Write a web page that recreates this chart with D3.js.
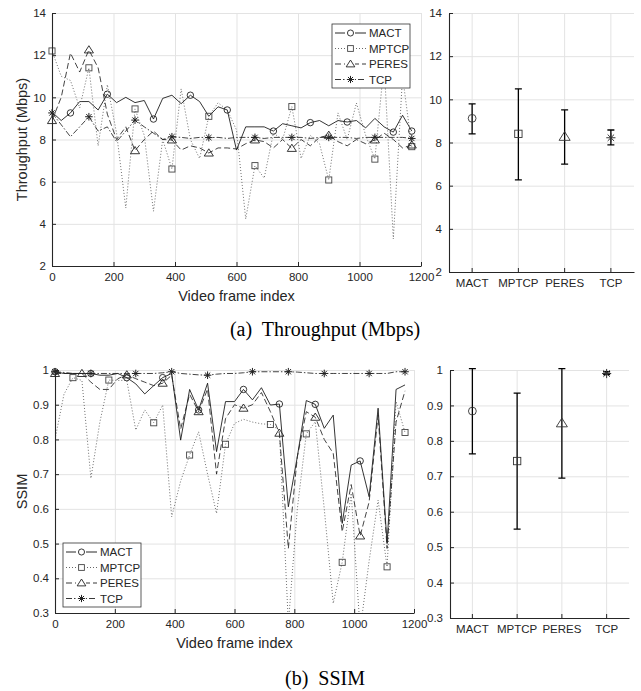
<!DOCTYPE html>
<html>
<head>
<meta charset="utf-8">
<script src="https://cdn.jsdelivr.net/npm/d3@7"></script>
<style>
  body { margin: 0; background: #fff; }
  text { font-family: "Liberation Sans", Arial, sans-serif; fill: #262626; }
  .caption { font-family: "Liberation Serif", "Times New Roman", serif; fill: #000; }
</style>
</head>
<body>
<div id="chart"></div>
<script>
// frame index of each sample
const frames = [0, 30, 60, 90, 120, 150, 180, 210, 240, 270, 300, 330, 360, 390, 420, 450, 480, 510, 540, 570,
  600, 630, 660, 690, 720, 750, 780, 810, 840, 870, 900, 930, 960, 990, 1020, 1050, 1080, 1110, 1140, 1170];
const methods = ["MACT", "MPTCP", "PERES", "TCP"];

// (a) throughput, Mbps
const thrMact = [9.3, 8.9, 9.26, 9.8, 9.8, 9.4, 10.15, 9.75, 10.0, 9.75, 9.85, 8.97, 9.95, 10.1, 9.7, 10.1, 9.8, 9.1, 9.55, 9.4,
  7.5, 8.6, 8.6, 8.6, 8.4, 8.75, 8.65, 8.55, 8.8, 8.9, 8.65, 8.9, 8.83, 8.9, 8.55, 9.0, 8.6, 8.35, 9.15, 8.4];
const thrMptcp = [12.2, 11.0, 10.8, 9.5, 11.4, 7.7, 10.6, 8.3, 4.75, 9.45, 8.2, 4.6, 8.0, 6.6, 10.4, 8.0, 7.1, 9.1, 9.74, 9.4,
  8.45, 4.23, 6.76, 6.17, 8.3, 8.0, 9.56, 7.1, 8.2, 7.8, 6.08, 9.26, 8.0, 9.73, 8.2, 7.07, 11.6, 3.28, 11.0, 7.66];
const thrPeres = [8.9, 10.0, 12.1, 11.2, 12.25, 11.4, 9.2, 8.0, 8.6, 7.47, 8.0, 8.4, 8.0, 7.98, 7.5, 7.7, 7.6, 7.36, 7.6, 7.6,
  7.55, 7.8, 7.98, 7.9, 7.6, 8.0, 7.58, 8.0, 7.7, 8.1, 8.2, 7.9, 7.7, 8.0, 7.8, 7.98, 8.3, 8.0, 7.6, 7.74];
const thrTcp = [9.26, 8.7, 8.13, 8.6, 9.08, 8.4, 8.6, 7.9, 8.4, 8.92, 8.6, 8.3, 8.0, 8.13, 8.1, 8.05, 8.1, 8.09, 8.1, 8.05,
  8.1, 8.1, 8.1, 8.05, 8.1, 8.1, 8.1, 8.1, 8.05, 8.1, 8.1, 8.1, 8.1, 8.05, 8.1, 8.1, 8.1, 8.1, 8.1, 8.05];
const thrMarks = {
  MACT: [60, 180, 330, 450, 570, 720, 840, 960, 1110, 1170],
  MPTCP: [0, 120, 270, 390, 510, 660, 780, 900, 1050, 1170],
  PERES: [0, 120, 270, 390, 510, 660, 780, 900, 1050, 1170],
  TCP: [0, 120, 270, 390, 510, 660, 780, 900, 1050, 1170]
};
const thrMean = [9.12, 8.40, 8.27, 8.22];
const thrLow = [8.40, 6.27, 7.00, 7.89];
const thrHigh = [9.79, 10.48, 9.51, 8.58];
const thrTicks = [2, 4, 6, 8, 10, 12, 14];

// (b) SSIM
const ssimMact = [0.995, 0.99, 0.99, 0.99, 0.99, 0.985, 0.985, 0.99, 0.978, 0.96, 0.931, 0.955, 0.978, 0.99, 0.798, 0.944, 0.885, 0.962, 0.765, 0.909,
  0.909, 0.944, 0.914, 0.949, 0.899, 0.902, 0.606, 0.75, 0.912, 0.901, 0.832, 0.87, 0.558, 0.726, 0.738, 0.635, 0.89, 0.5, 0.944, 0.957];
const ssimMptcp = [0.8, 0.93, 0.978, 0.97, 0.688, 0.85, 0.971, 0.97, 0.97, 0.827, 0.885, 0.848, 0.899, 0.577, 0.68, 0.755, 0.822, 0.70, 0.587, 0.786,
  0.846, 0.858, 0.85, 0.845, 0.843, 0.827, 0.27, 0.60, 0.816, 0.851, 0.6, 0.328, 0.446, 0.645, 0.25, 0.45, 0.625, 0.433, 0.909, 0.82];
const ssimPeres = [0.99, 0.99, 0.99, 0.99, 0.965, 0.944, 0.944, 0.975, 0.986, 0.975, 0.965, 0.955, 0.962, 0.985, 0.83, 0.93, 0.88, 0.945, 0.70, 0.86,
  0.90, 0.89, 0.90, 0.935, 0.88, 0.818, 0.486, 0.75, 0.88, 0.864, 0.80, 0.76, 0.534, 0.67, 0.522, 0.62, 0.87, 0.486, 0.85, 0.94];
const ssimTcp = [0.995, 0.993, 0.99, 0.99, 0.99, 0.99, 0.99, 0.99, 0.99, 0.99, 0.99, 0.99, 0.992, 0.995, 0.99, 0.988, 0.986, 0.985, 0.988, 0.99,
  0.99, 0.992, 0.995, 0.995, 0.995, 0.995, 0.995, 0.994, 0.992, 0.99, 0.99, 0.99, 0.99, 0.99, 0.99, 0.99, 0.99, 0.99, 0.995, 0.995];
const ssimMarks = {
  MACT: [0, 120, 240, 360, 480, 630, 750, 870, 1020],
  MPTCP: [60, 180, 330, 450, 570, 720, 840, 960, 1110, 1170],
  PERES: [0, 90, 240, 360, 480, 630, 750, 870, 1020],
  TCP: [0, 120, 270, 390, 510, 660, 780, 900, 1050, 1170]
};
const ssimMean = [0.884, 0.743, 0.850, 0.990];
const ssimLow = [0.763, 0.551, 0.695, 0.987];
const ssimHigh = [1.004, 0.935, 1.004, 0.995];
const ssimTicks = [0.3, 0.4, 0.5, 0.6, 0.7, 0.8, 0.9, 1];
const frameTicks = [0, 200, 400, 600, 800, 1000, 1200];

// line style for each method
const lineDash = { MACT: null, MPTCP: "1,2", PERES: "6,3", TCP: "6,2,1.5,2" };
const lineColor = { MACT: "#111", MPTCP: "#555", PERES: "#222", TCP: "#222" };
const gridColor = "#e3e3e3";
const axisColor = "#262626";
const plainNum = d => String(d);

const svg = d3.select("#chart").append("svg")
  .attr("width", 641).attr("height", 691)
  .style("background", "#fff");

function drawMarker(g, method, x, y, s) {
  const color = method === "MPTCP" ? "#444" : "#222";
  if (method === "MACT") {
    g.append("circle").attr("cx", x).attr("cy", y).attr("r", s * 0.85)
      .attr("fill", "none").attr("stroke", color).attr("stroke-width", 0.9);
  } else if (method === "MPTCP") {
    g.append("rect").attr("x", x - s * 0.8).attr("y", y - s * 0.8)
      .attr("width", s * 1.6).attr("height", s * 1.6)
      .attr("fill", "none").attr("stroke", color).attr("stroke-width", 0.9);
  } else if (method === "PERES") {
    g.append("path")
      .attr("d", `M${x},${y - s * 1.1}L${x + s * 1.2},${y + s * 0.8}L${x - s * 1.2},${y + s * 0.8}Z`)
      .attr("fill", "none").attr("stroke", color).attr("stroke-width", 0.9);
  } else {
    const d = s * 0.7;
    g.append("path")
      .attr("d", `M${x - s},${y}H${x + s}M${x},${y - s}V${y + s}M${x - d},${y - d}L${x + d},${y + d}M${x + d},${y - d}L${x - d},${y + d}`)
      .attr("fill", "none").attr("stroke", color).attr("stroke-width", 1);
  }
}

function drawSeriesPanel(cfg) {
  const x = d3.scaleLinear().domain([0, 1200]).range([cfg.left, cfg.right]);
  const y = d3.scaleLinear().domain(cfg.yDomain).range([cfg.bottom, cfg.top]);
  const g = svg.append("g");

  // grid
  g.append("g").attr("transform", `translate(0,${cfg.bottom})`)
    .call(d3.axisBottom(x).tickValues(frameTicks).tickSize(-(cfg.bottom - cfg.top)).tickFormat(""))
    .call(a => a.select(".domain").remove())
    .call(a => a.selectAll("line").attr("stroke", gridColor));
  g.append("g").attr("transform", `translate(${cfg.left},0)`)
    .call(d3.axisLeft(y).tickValues(cfg.yTicks).tickSize(-(cfg.right - cfg.left)).tickFormat(""))
    .call(a => a.select(".domain").remove())
    .call(a => a.selectAll("line").attr("stroke", gridColor));

  // series lines
  const clipId = "clip" + cfg.id;
  svg.append("clipPath").attr("id", clipId).append("rect")
    .attr("x", cfg.left).attr("y", cfg.top - 2)
    .attr("width", cfg.right - cfg.left).attr("height", cfg.bottom - cfg.top + 2);
  const line = d3.line().x((d, i) => x(frames[i])).y(d => y(d));
  const lines = g.append("g").attr("clip-path", `url(#${clipId})`);
  methods.forEach(m => {
    lines.append("path").datum(cfg.series[m])
      .attr("fill", "none")
      .attr("stroke", lineColor[m])
      .attr("stroke-width", 0.85)
      .attr("stroke-dasharray", lineDash[m])
      .attr("d", line);
  });
  // markers at chosen samples
  const marks = g.append("g");
  methods.forEach(m => {
    cfg.marks[m].forEach(f => {
      const v = cfg.series[m][frames.indexOf(f)];
      if (v >= cfg.yDomain[0]) drawMarker(marks, m, x(f), y(v), 3.8);
    });
  });

  // axes with inward ticks
  const ax = g.append("g").attr("transform", `translate(0,${cfg.bottom})`)
    .call(d3.axisBottom(x).tickValues(frameTicks).tickFormat(plainNum).tickSize(-4).tickSizeOuter(0).tickPadding(7));
  const ay = g.append("g").attr("transform", `translate(${cfg.left},0)`)
    .call(d3.axisLeft(y).tickValues(cfg.yTicks).tickFormat(plainNum).tickSize(-4).tickSizeOuter(0).tickPadding(6));
  [ax, ay].forEach(a => {
    a.select(".domain").attr("stroke", axisColor).attr("stroke-width", 1.1);
    a.selectAll("line").attr("stroke", axisColor);
    a.selectAll("text").style("font-size", "11.5px").attr("fill", axisColor);
  });

  g.append("text")
    .attr("x", (cfg.left + cfg.right) / 2).attr("y", cfg.bottom + 35)
    .attr("text-anchor", "middle").style("font-size", "14.5px")
    .text("Video frame index");
  g.append("text")
    .attr("transform", `translate(27,${(cfg.top + cfg.bottom) / 2}) rotate(-90)`)
    .attr("text-anchor", "middle").style("font-size", "14.5px")
    .text(cfg.yLabel);

  // legend box
  const lg = g.append("g").attr("transform", `translate(${cfg.legend[0]},${cfg.legend[1]})`);
  lg.append("rect").attr("width", 78).attr("height", 64)
    .attr("fill", "#fff").attr("stroke", "#333").attr("stroke-width", 0.8);
  methods.forEach((m, i) => {
    const ly = 9 + i * 15.5;
    lg.append("line").attr("x1", 3).attr("x2", 34).attr("y1", ly).attr("y2", ly)
      .attr("stroke", lineColor[m]).attr("stroke-width", 0.9)
      .attr("stroke-dasharray", lineDash[m]);
    const mg = lg.append("g");
    mg.append("rect").attr("x", 13).attr("y", ly - 5).attr("width", 10).attr("height", 10).attr("fill", "#fff");
    drawMarker(mg, m, 18.5, ly, 3.6);
    lg.append("text").attr("x", 37).attr("y", ly + 4.2)
      .style("font-size", "11.5px").text(m);
  });
}

function drawErrorPanel(cfg) {
  const x = d3.scaleBand().domain(methods).range([cfg.left, cfg.right]);
  const y = d3.scaleLinear().domain(cfg.yDomain).range([cfg.bottom, cfg.top]);
  const g = svg.append("g");

  g.append("g").attr("transform", `translate(0,${cfg.bottom})`)
    .call(d3.axisBottom(x).tickSize(-(cfg.bottom - cfg.top)).tickFormat(""))
    .call(a => a.select(".domain").remove())
    .call(a => a.selectAll("line").attr("stroke", gridColor));
  g.append("g").attr("transform", `translate(${cfg.left},0)`)
    .call(d3.axisLeft(y).tickValues(cfg.yTicks).tickSize(-(cfg.right - cfg.left)).tickFormat(""))
    .call(a => a.select(".domain").remove())
    .call(a => a.selectAll("line").attr("stroke", gridColor));

  methods.forEach((m, i) => {
    const cx = x(m) + x.bandwidth() / 2;
    const lo = y(cfg.low[i]), hi = y(cfg.high[i]);
    g.append("path")
      .attr("d", `M${cx},${lo}V${hi}M${cx - 3.5},${lo}H${cx + 3.5}M${cx - 3.5},${hi}H${cx + 3.5}`)
      .attr("fill", "none").attr("stroke", "#000").attr("stroke-width", 1.3);
    const mg = g.append("g");
    drawMarker(mg, m, cx, y(cfg.mean[i]), 4.6);
    mg.selectAll("*").attr("stroke", "#333");
  });

  const ax = g.append("g").attr("transform", `translate(0,${cfg.bottom})`)
    .call(d3.axisBottom(x).tickSize(-4).tickSizeOuter(0).tickPadding(7));
  const ay = g.append("g").attr("transform", `translate(${cfg.left},0)`)
    .call(d3.axisLeft(y).tickValues(cfg.yTicks).tickFormat(plainNum).tickSize(-4).tickSizeOuter(0).tickPadding(7));
  [ax, ay].forEach(a => {
    a.select(".domain").attr("stroke", axisColor).attr("stroke-width", 1.1);
    a.selectAll("line").attr("stroke", axisColor);
    a.selectAll("text").style("font-size", "11.5px").attr("fill", axisColor);
  });
}

drawSeriesPanel({
  id: "a", left: 52, right: 421, top: 13, bottom: 266,
  yDomain: [2, 14], yTicks: thrTicks, yLabel: "Throughput (Mbps)",
  series: { MACT: thrMact, MPTCP: thrMptcp, PERES: thrPeres, TCP: thrTcp },
  marks: thrMarks, legend: [332, 24]
});
drawErrorPanel({
  left: 449, right: 634, top: 13, bottom: 272,
  yDomain: [2, 14], yTicks: thrTicks,
  mean: thrMean, low: thrLow, high: thrHigh
});
drawSeriesPanel({
  id: "b", left: 55, right: 414, top: 370, bottom: 613,
  yDomain: [0.3, 1], yTicks: ssimTicks, yLabel: "SSIM",
  series: { MACT: ssimMact, MPTCP: ssimMptcp, PERES: ssimPeres, TCP: ssimTcp },
  marks: ssimMarks, legend: [63, 543]
});
drawErrorPanel({
  left: 450, right: 629, top: 370, bottom: 618,
  yDomain: [0.3, 1], yTicks: ssimTicks,
  mean: ssimMean, low: ssimLow, high: ssimHigh
});

// sub-figure captions
svg.append("text").attr("class", "caption")
  .attr("x", 325).attr("y", 336).attr("text-anchor", "middle")
  .style("font-size", "20px").style("white-space", "pre")
  .text("(a)  Throughput (Mbps)");
svg.append("text").attr("class", "caption")
  .attr("x", 325).attr("y", 685).attr("text-anchor", "middle")
  .style("font-size", "20px").style("white-space", "pre")
  .text("(b)  SSIM");
</script>
</body>
</html>
